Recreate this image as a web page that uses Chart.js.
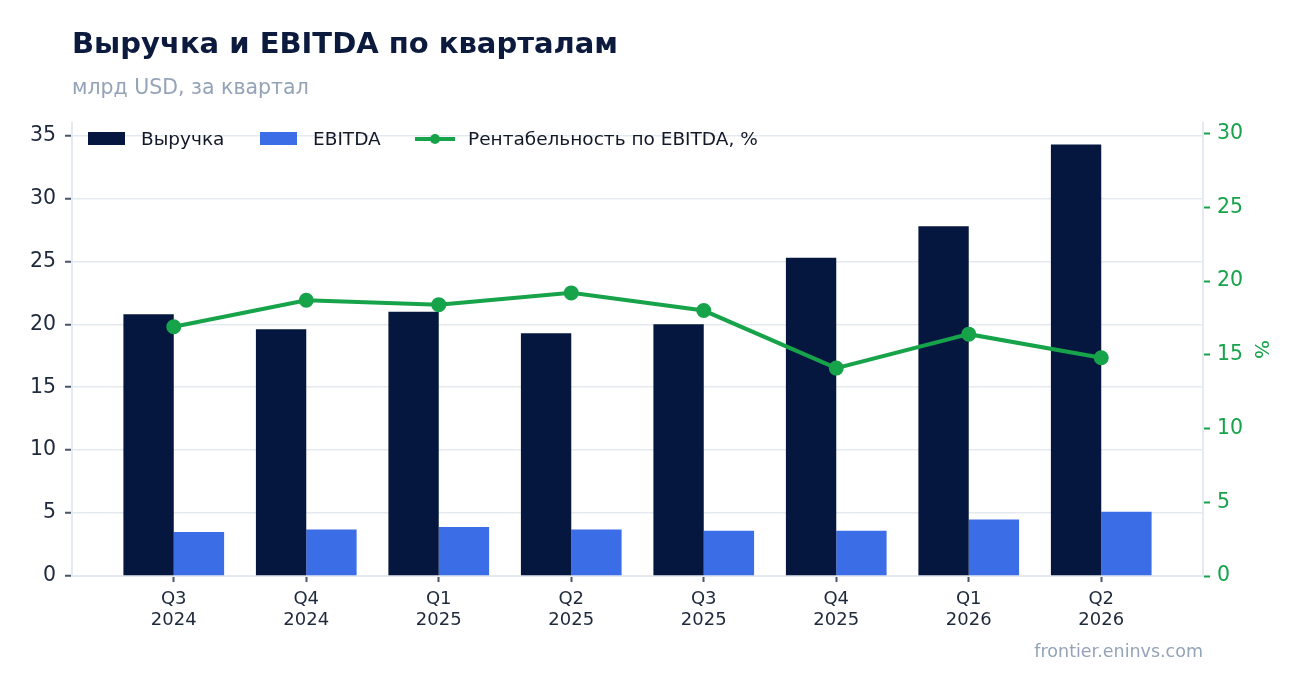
<!DOCTYPE html>
<html lang="ru">
<head>
<meta charset="utf-8">
<title>Выручка и EBITDA по кварталам</title>
<script src="https://cdn.jsdelivr.net/npm/chart.js@4.4.1/dist/chart.umd.min.js"></script>
<style>
  html, body { margin: 0; padding: 0; background: #fff; }
  body { width: 1302px; height: 693px; position: relative; overflow: hidden; font-family: "DejaVu Sans", sans-serif; }
  #wrap { position: absolute; left: 0; top: 0; width: 1302px; height: 693px; }
  .txt { position: absolute; white-space: nowrap; line-height: 1; }
  #title { left: 72px; top: 29px; font-size: 29px; font-weight: bold; color: #0b1a3d; }
  #subtitle { left: 72px; top: 77px; font-size: 20.5px; color: #94a3b8; }
  #source { right: 99px; top: 643px; font-size: 17.5px; color: #94a3b8; }
  .leg { position: absolute; top: 129.5px; height: 18px; line-height: 18px; display: flex; align-items: center; font-size: 18.5px; color: #111827; white-space: nowrap; }
  .leg .sw { width: 37px; height: 13px; margin-right: 16px; }
  .leg .ln { width: 40px; height: 13px; margin-right: 13px; position: relative; }
  .leg .ln::before { content: ""; position: absolute; left: 0; right: 0; top: 5px; height: 4px; background: #16a34a; }
  .leg .ln::after { content: ""; position: absolute; left: 15px; top: 2px; width: 10px; height: 10px; border-radius: 50%; background: #16a34a; }
</style>
</head>
<body>
<div id="wrap"><canvas id="chart"></canvas></div>
<div id="title" class="txt">Выручка и EBITDA по кварталам</div>
<div id="subtitle" class="txt">млрд USD, за квартал</div>
<div class="leg" style="left:88px"><span class="sw" style="background:#05173f"></span>Выручка</div>
<div class="leg" style="left:260px"><span class="sw" style="background:#3b6de6"></span>EBITDA</div>
<div class="leg" style="left:415px"><span class="ln"></span>Рентабельность по EBITDA, %</div>
<div id="source" class="txt">frontier.eninvs.com</div>
<script>
// данные по кварталам
const quarters = ['Q3', 'Q4', 'Q1', 'Q2', 'Q3', 'Q4', 'Q1', 'Q2'];
const years = ['2024', '2024', '2025', '2025', '2025', '2025', '2026', '2026'];
const revenue = [20.8, 19.6, 21.0, 19.3, 20.0, 25.3, 27.8, 34.3];
const ebitda = [3.5, 3.7, 3.9, 3.7, 3.6, 3.6, 4.5, 5.1];
const margin = [16.9, 18.7, 18.4, 19.2, 18.0, 14.1, 16.4, 14.8];
const leftTicks = [0, 5, 10, 15, 20, 25, 30, 35];
const rightTicks = [0, 5, 10, 15, 20, 25, 30];

const NAVY = '#05173f';
const BLUE = '#3b6de6';
const GREEN = '#16a34a';
const GRID = '#e5e9f0';
const TICK = '#475569';

const points = (arr) => arr.map((v, i) => ({ x: i, y: v }));

const ctx = document.getElementById('chart').getContext('2d');
new Chart(ctx, {
  data: {
    datasets: [
      {
        type: 'line',
        label: 'Рентабельность по EBITDA, %',
        data: points(margin),
        yAxisID: 'y1',
        borderColor: GREEN,
        backgroundColor: GREEN,
        borderWidth: 4,
        pointRadius: 5.5,
        pointHoverRadius: 5.5,
        tension: 0,
        order: 0
      },
      {
        type: 'bar',
        label: 'Выручка',
        data: points(revenue),
        yAxisID: 'y',
        backgroundColor: NAVY,
        categoryPercentage: 0.76,
        barPercentage: 1.0,
        order: 1
      },
      {
        type: 'bar',
        label: 'EBITDA',
        data: points(ebitda),
        yAxisID: 'y',
        backgroundColor: BLUE,
        categoryPercentage: 0.76,
        barPercentage: 1.0,
        order: 1
      }
    ]
  },
  options: {
    responsive: true,
    maintainAspectRatio: false,
    animation: false,
    layout: { padding: { top: 123, left: 0, right: 30, bottom: 57 } },
    plugins: {
      legend: { display: false },
      tooltip: { enabled: false }
    },
    scales: {
      x: {
        type: 'linear',
        offset: false,
        min: -0.768,
        max: 7.768,
        afterFit: (s) => { s.height = 60; },
        afterBuildTicks: (s) => { s.ticks = quarters.map((q, i) => ({ value: i })); },
        ticks: {
          padding: 7,
          color: '#1e293b',
          font: { family: 'DejaVu Sans', size: 18, lineHeight: 1.15 },
          maxRotation: 0,
          autoSkip: false,
          callback: (v) => [quarters[v], years[v]]
        },
        grid: { offset: false, drawOnChartArea: false, tickColor: TICK, tickLength: 6, tickWidth: 2 },
        border: { color: GRID, width: 2 }
      },
      y: {
        position: 'left',
        min: 0,
        max: 36,
        afterFit: (s) => { s.width = 72; },
        afterBuildTicks: (s) => { s.ticks = leftTicks.map((v) => ({ value: v })); },
        ticks: {
          padding: 9,
          color: '#1e293b',
          font: { family: 'DejaVu Sans', size: 20.5 }
        },
        grid: { color: GRID, lineWidth: 1.5, tickColor: TICK, tickLength: 7, tickWidth: 2 },
        border: { color: GRID, width: 2 }
      },
      y1: {
        position: 'right',
        min: 0,
        max: 30.72,
        afterFit: (s) => { s.width = 69; },
        afterBuildTicks: (s) => { s.ticks = rightTicks.map((v) => ({ value: v })); },
        ticks: {
          padding: 7,
          color: GREEN,
          font: { family: 'DejaVu Sans', size: 20.5 }
        },
        grid: { drawOnChartArea: false, tickColor: GREEN, tickLength: 7, tickWidth: 2 },
        border: { color: GRID, width: 2 },
        title: {
          display: true,
          text: '%',
          color: GREEN,
          padding: 0,
          font: { family: 'DejaVu Sans', size: 20 }
        }
      }
    }
  }
});
</script>
</body>
</html>
